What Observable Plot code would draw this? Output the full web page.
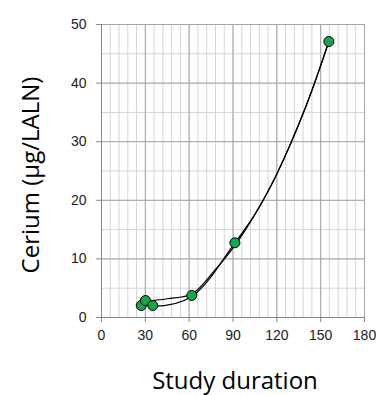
<!DOCTYPE html>
<html>
<head>
<meta charset="utf-8">
<script src="https://cdn.jsdelivr.net/npm/d3@7"></script>
<script src="https://cdn.jsdelivr.net/npm/@observablehq/plot@0.6"></script>
<style>
html,body{margin:0;padding:0;background:#fff;}
</style>
</head>
<body>
<div id="chart"></div>
<script>
const days = [27.2, 30.1, 35.1, 61.8, 91.3, 155.6];
const cerium = [2.05, 2.9, 2.05, 3.76, 12.75, 47.1];

const curveAx = [27.5, 35.1, 61.8, 91.3, 105, 120, 140, 155.6];
const curveAy = [2.3, 1.9, 3.6, 12.75, 17.6, 24.5, 36.1, 47.1];
const curveBx = [28.0, 45, 61.8, 77, 91.3, 105, 120, 140, 155.6];
const curveBy = [2.7, 3.2, 4.0, 7.9, 12.3, 17.6, 24.5, 36.1, 47.1];

const xTicks = [0, 30, 60, 90, 120, 150, 180];
const yTicks = [0, 10, 20, 30, 40, 50];
const xMinor = d3.range(0, 181, 6);
const yMinor = d3.range(0, 51, 5);

const points = days.map((d, i) => ({x: d, y: cerium[i]}));
const lineA = curveAx.map((d, i) => ({x: d, y: curveAy[i]}));
const lineB = curveBx.map((d, i) => ({x: d, y: curveBy[i]}));

const chart = Plot.plot({
  width: 381,
  height: 395,
  marginLeft: 101,
  marginRight: 17,
  marginTop: 24,
  marginBottom: 78,
  style: {fontFamily: "Liberation Sans, Arial, sans-serif", fontSize: "14px", background: "#fff", color: "#000"},
  x: {domain: [0, 180], ticks: xTicks, label: null},
  y: {domain: [0, 50], ticks: yTicks, label: null},
  marks: [
    Plot.ruleX(xMinor, {stroke: "#d4d4d4", strokeWidth: 1}),
    Plot.ruleY(yMinor, {stroke: "#d4d4d4", strokeWidth: 1}),
    Plot.ruleX(xTicks, {stroke: "#a6a6a6", strokeWidth: 1}),
    Plot.ruleY(yTicks, {stroke: "#a6a6a6", strokeWidth: 1}),
    Plot.axisX({ticks: xTicks, tickSize: 5, tickPadding: 8, stroke: "#888", fontSize: 14, fill: "#222"}),
    Plot.axisY({ticks: yTicks, tickSize: 5, tickPadding: 10, stroke: "#888", fontSize: 14, fill: "#222"}),
    Plot.ruleY([0], {stroke: "#888"}),
    Plot.ruleX([0], {stroke: "#888"}),
    Plot.line(lineB, {x: "x", y: "y", curve: "catmull-rom", stroke: "#000", strokeWidth: 1.2}),
    Plot.line(lineA, {x: "x", y: "y", curve: "catmull-rom", stroke: "#000", strokeWidth: 1.2}),
    Plot.dot(points, {x: "x", y: "y", r: 5, fill: "#12a84a", stroke: "#000", strokeWidth: 1})
  ]
});

const svg = d3.select(chart);
svg.append("text")
  .attr("transform", "translate(39,175) rotate(-90)")
  .attr("text-anchor", "middle")
  .style("font-family", "Open Sans, sans-serif")
  .style("font-size", "24px")
  .style("fill", "#000")
  .text("Cerium (µg/LALN)");
svg.append("text")
  .attr("x", 235)
  .attr("y", 389)
  .attr("text-anchor", "middle")
  .style("font-family", "Open Sans, sans-serif")
  .style("font-size", "24px")
  .style("fill", "#000")
  .text("Study duration");

document.getElementById("chart").appendChild(chart);
</script>
</body>
</html>
